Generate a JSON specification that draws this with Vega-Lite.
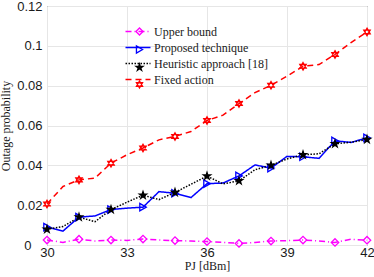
{
  "$schema": "https://vega.github.io/schema/vega-lite/v6.json",
  "width": 320,
  "height": 239,
  "autosize": {"type": "none"},
  "padding": {"left": 47, "top": 6, "right": 7, "bottom": 32},
  "background": "white",
  "config": {
    "view": {"stroke": "#404040", "strokeWidth": 1},
    "axis": {
      "labelFont": "Liberation Sans",
      "labelFontSize": 13,
      "labelColor": "#1a1a1a",
      "titleFont": "Liberation Serif",
      "titleFontSize": 12,
      "titleFontWeight": "normal",
      "titleColor": "#1a1a1a",
      "gridColor": "#e6e6e6",
      "gridWidth": 1,
      "domain": false,
      "ticks": false
    },
    "legend": {
      "labelFont": "Liberation Serif",
      "labelFontSize": 12,
      "labelColor": "#1a1a1a"
    }
  },
  "data": {
    "values": [
      {"x": 30, "y": 0.0025, "s": "Upper bound"},
      {"x": 30.6, "y": 0.0013, "s": "Upper bound"},
      {"x": 31.2, "y": 0.0029, "s": "Upper bound"},
      {"x": 31.8, "y": 0.0020, "s": "Upper bound"},
      {"x": 32.4, "y": 0.0025, "s": "Upper bound"},
      {"x": 33, "y": 0.0023, "s": "Upper bound"},
      {"x": 33.6, "y": 0.0030, "s": "Upper bound"},
      {"x": 34.2, "y": 0.0025, "s": "Upper bound"},
      {"x": 34.8, "y": 0.0022, "s": "Upper bound"},
      {"x": 35.4, "y": 0.0020, "s": "Upper bound"},
      {"x": 36, "y": 0.0017, "s": "Upper bound"},
      {"x": 36.6, "y": 0.0013, "s": "Upper bound"},
      {"x": 37.2, "y": 0.0008, "s": "Upper bound"},
      {"x": 37.8, "y": 0.0013, "s": "Upper bound"},
      {"x": 38.4, "y": 0.0020, "s": "Upper bound"},
      {"x": 39, "y": 0.0022, "s": "Upper bound"},
      {"x": 39.6, "y": 0.0025, "s": "Upper bound"},
      {"x": 40.2, "y": 0.0020, "s": "Upper bound"},
      {"x": 40.8, "y": 0.0013, "s": "Upper bound"},
      {"x": 41.4, "y": 0.0029, "s": "Upper bound"},
      {"x": 42, "y": 0.0024, "s": "Upper bound"},
      {"x": 30, "y": 0.0090, "s": "Proposed technique"},
      {"x": 30.6, "y": 0.0070, "s": "Proposed technique"},
      {"x": 31.2, "y": 0.0140, "s": "Proposed technique"},
      {"x": 31.8, "y": 0.0146, "s": "Proposed technique"},
      {"x": 32.4, "y": 0.0178, "s": "Proposed technique"},
      {"x": 33, "y": 0.0185, "s": "Proposed technique"},
      {"x": 33.6, "y": 0.0190, "s": "Proposed technique"},
      {"x": 34.2, "y": 0.0268, "s": "Proposed technique"},
      {"x": 34.8, "y": 0.0260, "s": "Proposed technique"},
      {"x": 35.4, "y": 0.0238, "s": "Proposed technique"},
      {"x": 36, "y": 0.0308, "s": "Proposed technique"},
      {"x": 36.6, "y": 0.0311, "s": "Proposed technique"},
      {"x": 37.2, "y": 0.0347, "s": "Proposed technique"},
      {"x": 37.8, "y": 0.0402, "s": "Proposed technique"},
      {"x": 38.4, "y": 0.0386, "s": "Proposed technique"},
      {"x": 39, "y": 0.0445, "s": "Proposed technique"},
      {"x": 39.6, "y": 0.0443, "s": "Proposed technique"},
      {"x": 40.2, "y": 0.0435, "s": "Proposed technique"},
      {"x": 40.8, "y": 0.0523, "s": "Proposed technique"},
      {"x": 41.4, "y": 0.0515, "s": "Proposed technique"},
      {"x": 42, "y": 0.0538, "s": "Proposed technique"},
      {"x": 30, "y": 0.0079, "s": "Heuristic approach [18]"},
      {"x": 30.6, "y": 0.0093, "s": "Heuristic approach [18]"},
      {"x": 31.2, "y": 0.0140, "s": "Heuristic approach [18]"},
      {"x": 31.8, "y": 0.0117, "s": "Heuristic approach [18]"},
      {"x": 32.4, "y": 0.0178, "s": "Heuristic approach [18]"},
      {"x": 33, "y": 0.0215, "s": "Heuristic approach [18]"},
      {"x": 33.6, "y": 0.0250, "s": "Heuristic approach [18]"},
      {"x": 34.2, "y": 0.0228, "s": "Heuristic approach [18]"},
      {"x": 34.8, "y": 0.0264, "s": "Heuristic approach [18]"},
      {"x": 35.4, "y": 0.0305, "s": "Heuristic approach [18]"},
      {"x": 36, "y": 0.0346, "s": "Heuristic approach [18]"},
      {"x": 36.6, "y": 0.0307, "s": "Heuristic approach [18]"},
      {"x": 37.2, "y": 0.0322, "s": "Heuristic approach [18]"},
      {"x": 37.8, "y": 0.0378, "s": "Heuristic approach [18]"},
      {"x": 38.4, "y": 0.0400, "s": "Heuristic approach [18]"},
      {"x": 39, "y": 0.0432, "s": "Heuristic approach [18]"},
      {"x": 39.6, "y": 0.0453, "s": "Heuristic approach [18]"},
      {"x": 40.2, "y": 0.0458, "s": "Heuristic approach [18]"},
      {"x": 40.8, "y": 0.0508, "s": "Heuristic approach [18]"},
      {"x": 41.4, "y": 0.0516, "s": "Heuristic approach [18]"},
      {"x": 42, "y": 0.0530, "s": "Heuristic approach [18]"},
      {"x": 30, "y": 0.0206, "s": "Fixed action"},
      {"x": 30.6, "y": 0.0294, "s": "Fixed action"},
      {"x": 31.2, "y": 0.0327, "s": "Fixed action"},
      {"x": 31.8, "y": 0.0336, "s": "Fixed action"},
      {"x": 32.4, "y": 0.0411, "s": "Fixed action"},
      {"x": 33, "y": 0.0453, "s": "Fixed action"},
      {"x": 33.6, "y": 0.0487, "s": "Fixed action"},
      {"x": 34.2, "y": 0.0528, "s": "Fixed action"},
      {"x": 34.8, "y": 0.0545, "s": "Fixed action"},
      {"x": 35.4, "y": 0.0570, "s": "Fixed action"},
      {"x": 36, "y": 0.0625, "s": "Fixed action"},
      {"x": 36.6, "y": 0.0652, "s": "Fixed action"},
      {"x": 37.2, "y": 0.0710, "s": "Fixed action"},
      {"x": 37.8, "y": 0.0765, "s": "Fixed action"},
      {"x": 38.4, "y": 0.0802, "s": "Fixed action"},
      {"x": 39, "y": 0.0848, "s": "Fixed action"},
      {"x": 39.6, "y": 0.0897, "s": "Fixed action"},
      {"x": 40.2, "y": 0.0906, "s": "Fixed action"},
      {"x": 40.8, "y": 0.0957, "s": "Fixed action"},
      {"x": 41.4, "y": 0.1016, "s": "Fixed action"},
      {"x": 42, "y": 0.1070, "s": "Fixed action"}
    ]
  },
  "encoding": {
    "x": {
      "field": "x",
      "type": "quantitative",
      "scale": {"domain": [30, 42], "nice": false, "zero": false},
      "axis": {"values": [30, 33, 36, 39, 42], "title": "PJ [dBm]", "labelPadding": 1, "titlePadding": 1, "labelFlush": false}
    },
    "y": {
      "field": "y",
      "type": "quantitative",
      "scale": {"domain": [0, 0.12], "nice": false},
      "axis": {
        "values": [0, 0.02, 0.04, 0.06, 0.08, 0.1, 0.12],
        "format": ".2~f",
        "title": "Outage probability",
        "labelPadding": {"condition": {"test": "datum.value === 0", "value": 16}, "value": 5},
        "titlePadding": 4
      }
    }
  },
  "layer": [
    {
      "mark": {"type": "line", "strokeWidth": 1.5},
      "encoding": {
        "stroke": {
          "field": "s",
          "type": "nominal",
          "scale": {
            "domain": ["Upper bound", "Proposed technique", "Heuristic approach [18]", "Fixed action"],
            "range": ["#ff00ff", "#0000ff", "#000000", "#ff0000"]
          },
          "legend": {"orient": "none", "legendX": 85, "legendY": 19.5, "title": null, "symbolType": "M-2.5,0L2.5,0", "symbolSize": 100, "symbolStrokeWidth": 1.5, "rowPadding": 4, "labelOffset": 10, "padding": 0}
        },
        "strokeDash": {
          "field": "s",
          "type": "nominal",
          "scale": {
            "domain": ["Upper bound", "Proposed technique", "Heuristic approach [18]", "Fixed action"],
            "range": [[6, 3, 1, 3], [1, 0], [1.5, 1.5], [6, 4]]
          },
          "legend": {"orient": "none", "legendX": 85, "legendY": 19.5, "title": null, "symbolType": "M-2.5,0L2.5,0", "symbolSize": 100, "symbolStrokeWidth": 1.5, "rowPadding": 4, "labelOffset": 10, "padding": 0}
        }
      }
    },
    {
      "transform": [{"filter": "abs((datum.x - 30) / 1.2 - round((datum.x - 30) / 1.2)) < 0.01"}],
      "mark": {"type": "point", "filled": false, "size": 55, "strokeWidth": 1.3, "opacity": 1},
      "encoding": {
        "color": {
          "field": "s",
          "type": "nominal",
          "sort": "descending",
          "scale": {"range": ["#ff00ff", "#0000ff", "#000000", "#ff0000"]},
          "legend": {"orient": "none", "legendX": 86.5, "legendY": 19.5, "title": null, "symbolSize": 50, "symbolStrokeWidth": 1.3, "rowPadding": 4, "labelOffset": 5, "labelExpr": "''", "padding": 0}
        },
        "shape": {
          "field": "s",
          "type": "nominal",
          "sort": "descending",
          "scale": {"range": [
            "diamond",
            "triangle-right",
            "M0,-1L0.2233,-0.3074L0.9511,-0.309L0.3614,0.1174L0.5878,0.809L0,0.38L-0.5878,0.809L-0.3614,0.1174L-0.9511,-0.309L-0.2233,-0.3074Z",
            "M0,-1L0.866,0.5L-0.866,0.5ZM0,1L0.866,-0.5L-0.866,-0.5Z"
          ]},
          "legend": {"orient": "none", "legendX": 86.5, "legendY": 19.5, "title": null, "symbolSize": 50, "symbolStrokeWidth": 1.3, "rowPadding": 4, "labelOffset": 5, "labelExpr": "''", "padding": 0}
        },
        "fill": {
          "field": "s",
          "type": "nominal",
          "sort": "descending",
          "scale": {"range": ["transparent", "transparent", "#000000", "transparent"]},
          "legend": {"orient": "none", "legendX": 86.5, "legendY": 19.5, "title": null, "symbolSize": 50, "symbolStrokeWidth": 1.3, "rowPadding": 4, "labelOffset": 5, "labelExpr": "''", "padding": 0}
        }
      }
    }
  ]
}
